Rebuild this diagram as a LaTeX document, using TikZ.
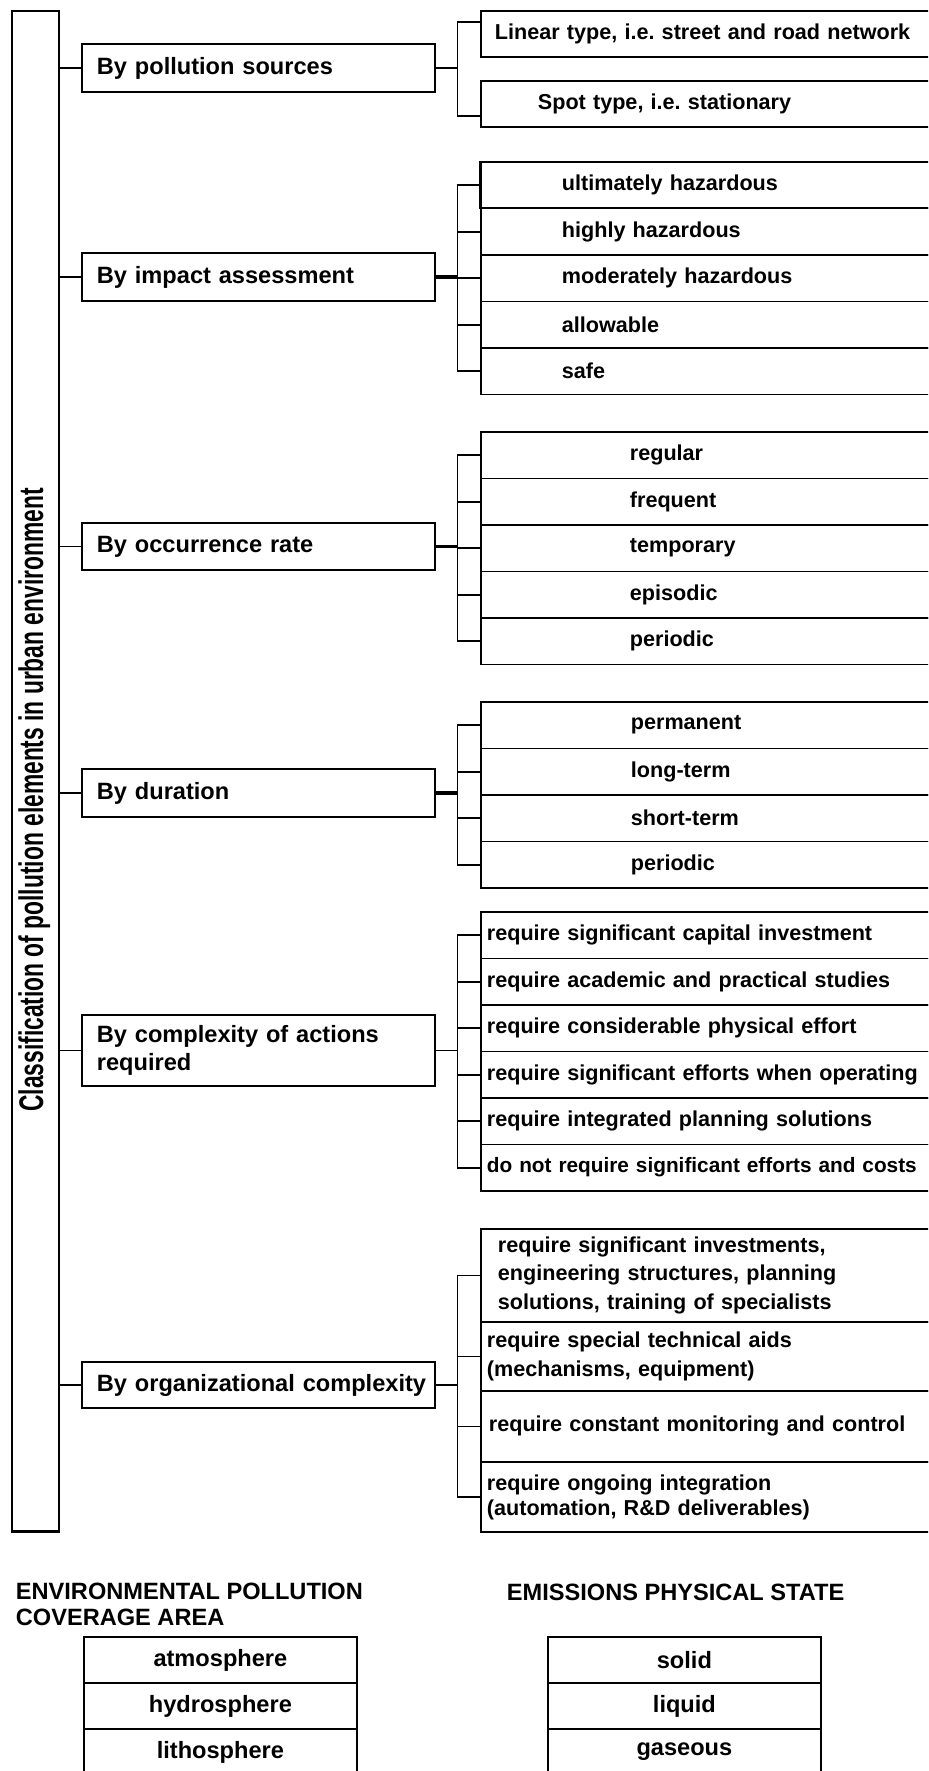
\documentclass[tikz,border=0pt]{standalone}
\usepackage{fontspec}
\setmainfont{Liberation Sans}
\usepackage{graphicx}
\usetikzlibrary{calc}
\frenchspacing

\newcommand\grpfont{\fontsize{11.8}{14}\selectfont\bfseries}
\newcommand\leaffont{\fontsize{10.8}{14.25}\selectfont\bfseries}

\tikzset{
  grp/.style={draw, anchor=west, inner xsep=7.5pt, inner ysep=1pt, text width=161.5pt,
    align=left, minimum height=#1, font=\grpfont},
  grp/.default=24pt,
  leaf/.style={draw, anchor=north west, inner xsep=#1, inner ysep=1pt, text width=230pt-2*#1,
    align=left, minimum height=23.25pt, font=\leaffont},
  cell/.style={draw, anchor=north west, minimum width=136.5pt, minimum height=23pt,
    inner sep=0pt, font=\grpfont},
  heavy/.style={line width=1.8pt},
}

\begin{document}
\begin{tikzpicture}[x=0.5pt, y=-0.5pt, line width=0.9pt]
  \path[use as bounding box] (0,0) rectangle (928,1771);
  \clip (0,0) rectangle (928,1771);

  % Tall frame on the left with its rotated caption.
  \node[draw, anchor=north west, inner sep=0pt, minimum width=23.5pt, minimum height=760pt] (main) at (11,10) {};
  \draw[line width=1.6pt] (main.south west) -- (main.south east);
  \node[rotate=90, anchor=base, inner sep=0pt] (title) at (43,800)
    {\scalebox{1}[1.5]{\fontsize{11.4}{13}\selectfont\bfseries Classification of pollution elements in urban environment}};
  \coordinate (bx) at (457.5,0);

  % Criteria.
  \node[grp] (g1) at (81,68) {By pollution sources};
  \node[grp] (g2) at (81,277) {By impact assessment};
  \node[grp=23.5pt] (g3) at (81,546.5) {By occurrence rate};
  \node[grp] (g4) at (81,793) {By duration};
  \node[grp=35.5pt] (g5) at (81,1050.5) {By complexity of actions\\required};
  \node[grp=23pt] (g6) at (81,1385) {\mbox{By organizational complexity}};

  % Pollution sources.
  \node[leaf=7pt] (s1) at (480,10) {Linear type, i.e. street and road network};
  \node[leaf=28.5pt] (s2) at (480,80) {Spot type, i.e. stationary};

  % Impact assessment.
  \node[leaf=40.5pt] (i1) at (480,161) {ultimately hazardous};
  \node[leaf=40.5pt] (i2) at (480,207.5) {highly hazardous};
  \node[leaf=40.5pt] (i3) at (480,254) {moderately hazardous};
  \node[leaf=40.5pt] (i4) at (480,300.5) {allowable};
  \node[leaf=40.5pt] (i5) at (480,347) {safe};

  % Occurrence rate.
  \node[leaf=74.5pt] (o1) at (480,431) {regular};
  \node[leaf=74.5pt] (o2) at (480,477.5) {frequent};
  \node[leaf=74.5pt] (o3) at (480,524) {temporary};
  \node[leaf=74.5pt] (o4) at (480,570.5) {episodic};
  \node[leaf=74.5pt] (o5) at (480,617) {periodic};

  % Duration.
  \node[leaf=75pt] (d1) at (480,701) {permanent};
  \node[leaf=75pt] (d2) at (480,747.5) {long-term};
  \node[leaf=75pt] (d3) at (480,794) {short-term};
  \node[leaf=75pt] (d4) at (480,840.5) {periodic};

  % Complexity of actions.
  \node[leaf=3pt] (c1) at (480,911) {require significant capital investment};
  \node[leaf=3pt] (c2) at (480,957.5) {require academic and practical studies};
  \node[leaf=3pt] (c3) at (480,1004) {require considerable physical effort};
  \node[leaf=3pt] (c4) at (480,1050.5) {require significant efforts when operating};
  \node[leaf=3pt] (c5) at (480,1097) {require integrated planning solutions};
  \node[leaf=3pt, font=\fontsize{10.4}{14}\selectfont\bfseries] (c6) at (480,1143.5)
    {do not require significant efforts and costs};

  % Organizational complexity.
  \node[leaf=8.5pt, minimum height=46.5pt] (r1) at (480,1228)
    {require significant investments,\\engineering structures, planning\\solutions, training of specialists};
  \node[leaf=3pt, minimum height=34.5pt] (r2) at (480,1321)
    {require special technical aids\\(mechanisms, equipment)};
  \node[leaf=4pt, minimum height=35.5pt] (r3) at (480,1390) {require constant monitoring and control};
  \node[leaf=3pt, minimum height=35pt, font=\fontsize{10.8}{12.5}\selectfont\bfseries] (r4) at (480,1461)
    {require ongoing integration\\(automation, R\&D deliverables)};

  % Links from the frame to each criterion.
  \draw (main.east |- g1.west) -- (g1.west);
  \draw (main.east |- g2.west) -- (g2.west);
  \draw (main.east |- g3.west) -- (g3.west);
  \draw (main.east |- g4.west) -- (g4.west);
  \draw (main.east |- g5.west) -- (g5.west);
  \draw (main.east |- g6.west) -- (g6.west);

  % Brackets.
  \draw (g1.east) -- (g1.east -| bx);
  \draw ([yshift=-6pt]s1.north west) -| ([yshift=6pt]s2.south west -| bx) -- ([yshift=6pt]s2.south west);

  \draw[heavy] (g2.east) -- (g2.east -| bx);
  \draw (i1.west) -| (i5.west -| bx) -- (i5.west);
  \draw (i2.west -| bx) -- (i2.west) (i3.west -| bx) -- (i3.west) (i4.west -| bx) -- (i4.west);
  \draw[line width=1.5pt] (i1.north west) -- (i1.south west);

  \draw[heavy] (g3.east) -- (g3.east -| bx);
  \draw (o1.west) -| (o5.west -| bx) -- (o5.west);
  \draw (o2.west -| bx) -- (o2.west) (o3.west -| bx) -- (o3.west) (o4.west -| bx) -- (o4.west);

  \draw[heavy] (g4.east) -- (g4.east -| bx);
  \draw (d1.west) -| (d4.west -| bx) -- (d4.west);
  \draw (d2.west -| bx) -- (d2.west) (d3.west -| bx) -- (d3.west);

  \draw (g5.east) -- (g5.east -| bx);
  \draw (c1.west) -| (c6.west -| bx) -- (c6.west);
  \draw (c2.west -| bx) -- (c2.west) (c3.west -| bx) -- (c3.west)
        (c4.west -| bx) -- (c4.west) (c5.west -| bx) -- (c5.west);

  \draw (g6.east) -- (g6.east -| bx);
  \draw (r1.west) -| (r4.west -| bx) -- (r4.west);
  \draw (r2.west -| bx) -- (r2.west) (r3.west -| bx) -- (r3.west);

  % Two small tables below.
  \node[anchor=north west, align=left, inner sep=0pt, font=\fontsize{11.8}{13}\selectfont\bfseries] (hd1) at (15,1582)
    {ENVIRONMENTAL POLLUTION\\COVERAGE AREA};
  \node[anchor=west, inner sep=0pt, font=\grpfont] (hd2) at (506,1592.5) {EMISSIONS PHYSICAL STATE};

  \node[cell] (a1) at (83,1636) {atmosphere};
  \node[cell] (a2) at (83,1682) {hydrosphere};
  \node[cell] (a3) at (83,1728) {lithosphere};

  \node[cell] (e1) at (547,1636) {solid};
  \node[cell] (e2) at (547,1682) {liquid};
  \node[cell] (e3) at (547,1728) {gaseous};
\end{tikzpicture}
\end{document}
